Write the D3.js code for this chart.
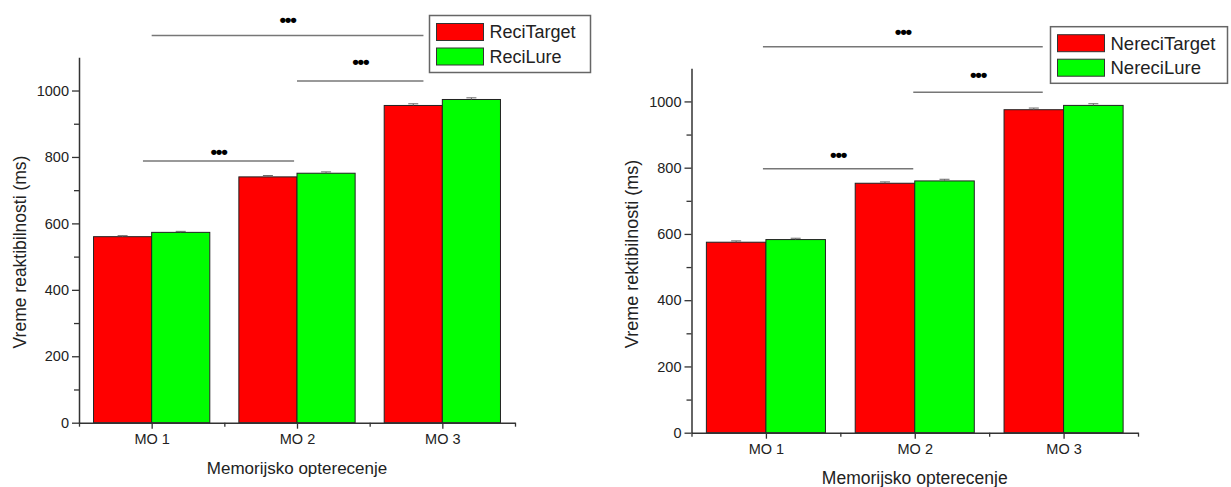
<!DOCTYPE html>
<html>
<head>
<meta charset="utf-8">
<script src="https://cdn.jsdelivr.net/npm/d3@7/dist/d3.min.js"></script>
<style>
  html, body { margin: 0; padding: 0; background: #fff; }
  svg { display: block; font-family: "Liberation Sans", Arial, sans-serif; }
</style>
</head>
<body>
<svg id="chart" width="1231" height="487"></svg>
<script>
// ---- data ----
const categories = ["MO 1", "MO 2", "MO 3"];
const yTicks = [0, 200, 400, 600, 800, 1000];
const yMinorTicks = [100, 300, 500, 700, 900];

const reciTarget = [560, 740, 955];
const reciLure = [573, 751, 973];
const reciTargetErr = [3, 4, 5];
const reciLureErr = [3, 4, 5];

const nereciTarget = [575, 753, 975];
const nereciLure = [583, 760, 988];
const nereciTargetErr = [4, 4, 5];
const nereciLureErr = [4, 5, 5];

// significance brackets: from/to in category units, line level and star level in ms
const leftSigFrom = [1, 2, 0.94];
const leftSigTo = [2.87, 2.87, 1.98];
const leftSigLine = [1166, 1029, 788];
const leftSigStar = [1215, 1086, 815];
const rightSigFrom = [0.98, 1.99, 0.98];
const rightSigTo = [2.86, 2.86, 1.99];
const rightSigLine = [1165, 1028, 797];
const rightSigStar = [1211, 1080, 840];
const sigLabel = "•••";

const leftLegend = ["ReciTarget", "ReciLure"];
const rightLegend = ["NereciTarget", "NereciLure"];
const xTitle = "Memorijsko opterecenje";
const leftYTitle = "Vreme reaktibilnosti (ms)";
const rightYTitle = "Vreme rektibilnosti (ms)";

const svg = d3.select("#chart");
const colors = ["#ff0000", "#00ff00"];

function drawChart(cfg) {
  const g = svg.append("g");
  const x = d3.scaleLinear().domain([0.5, 3.5]).range([cfg.x0, cfg.x1]);
  const y = d3.scaleLinear().domain([0, 1100]).range([cfg.y0, cfg.y1]);
  const step = x(2) - x(1);
  const bw = step * 0.4;

  // bars
  const series = [cfg.s1, cfg.s2];
  const errs = [cfg.e1, cfg.e2];
  series.forEach((s, si) => {
    s.forEach((v, i) => {
      const bx = si === 0 ? x(i + 1) - bw : x(i + 1);
      g.append("rect")
        .attr("x", bx).attr("y", y(v))
        .attr("width", bw).attr("height", y(0) - y(v))
        .attr("fill", colors[si])
        .attr("stroke", "#222").attr("stroke-width", 1);
      const cx = bx + bw / 2;
      const e = errs[si][i];
      g.append("line").attr("x1", cx).attr("x2", cx)
        .attr("y1", y(v + e)).attr("y2", y(v))
        .attr("stroke", "#666").attr("stroke-width", 1);
      g.append("line").attr("x1", cx - 5).attr("x2", cx + 5)
        .attr("y1", y(v + e)).attr("y2", y(v + e))
        .attr("stroke", "#666").attr("stroke-width", 1);
    });
  });

  // y axis
  const yAxis = d3.axisLeft(y).tickValues(yTicks).tickFormat(d3.format("d"))
    .tickSize(7).tickPadding(3).tickSizeOuter(0);
  const ya = g.append("g").attr("transform", `translate(${cfg.x0},0)`).call(yAxis);
  ya.select(".domain").attr("stroke", "#333").attr("stroke-width", 1.5);
  ya.selectAll(".tick line").attr("stroke", "#333").attr("stroke-width", 1.3);
  ya.selectAll(".tick text").attr("font-size", cfg.tickFont).attr("fill", "#222")
    .attr("font-family", "Liberation Sans, Arial, sans-serif");
  const yMinor = d3.axisLeft(y).tickValues(yMinorTicks).tickSize(5).tickFormat("").tickSizeOuter(0);
  const ym = g.append("g").attr("transform", `translate(${cfg.x0},0)`).call(yMinor);
  ym.select(".domain").remove();
  ym.selectAll(".tick line").attr("stroke", "#333").attr("stroke-width", 1.3);

  // x axis
  const xAxis = d3.axisBottom(x).tickValues([1, 2, 3]).tickFormat((d) => categories[d - 1])
    .tickSize(6).tickPadding(5).tickSizeOuter(0);
  const xa = g.append("g").attr("transform", `translate(0,${cfg.y0})`).call(xAxis);
  xa.select(".domain").attr("stroke", "#333").attr("stroke-width", 1.5);
  xa.selectAll(".tick line").attr("stroke", "#333").attr("stroke-width", 1.3);
  xa.selectAll(".tick text").attr("font-size", cfg.tickFont).attr("fill", "#222")
    .attr("font-family", "Liberation Sans, Arial, sans-serif");
  const xMinor = d3.axisBottom(x).tickValues([0.5, 1.5, 2.5, 3.5]).tickSize(4).tickFormat("").tickSizeOuter(0);
  const xm = g.append("g").attr("transform", `translate(0,${cfg.y0})`).call(xMinor);
  xm.select(".domain").remove();
  xm.selectAll(".tick line").attr("stroke", "#333").attr("stroke-width", 1.3);

  // titles
  g.append("text").attr("x", (cfg.x0 + cfg.x1) / 2).attr("y", cfg.xTitleY)
    .attr("text-anchor", "middle").attr("font-size", cfg.titleFont).attr("fill", "#222")
    .text(xTitle);
  g.append("text")
    .attr("transform", `translate(${cfg.yTitleX},${cfg.yTitleCY}) rotate(-90)`)
    .attr("text-anchor", "middle").attr("dominant-baseline", "central")
    .attr("font-size", cfg.yTitleFont).attr("fill", "#222")
    .text(cfg.yTitle);

  // significance brackets
  cfg.sigFrom.forEach((f, i) => {
    g.append("line").attr("x1", x(f)).attr("x2", x(cfg.sigTo[i]))
      .attr("y1", y(cfg.sigLine[i])).attr("y2", y(cfg.sigLine[i]))
      .attr("stroke", "#777").attr("stroke-width", 1.5);
    g.append("text").attr("x", x((f + cfg.sigTo[i]) / 2)).attr("y", y(cfg.sigStar[i]))
      .attr("text-anchor", "middle").attr("dominant-baseline", "central")
      .attr("font-size", 19).attr("font-weight", "bold").attr("fill", "#000")
      .attr("letter-spacing", "-1.3px")
      .text(sigLabel);
  });

  // legend
  const L = cfg.legend;
  g.append("rect").attr("x", L.x).attr("y", L.y).attr("width", L.w).attr("height", L.h)
    .attr("fill", "#fff").attr("stroke", "#666").attr("stroke-width", 1.5);
  cfg.legendNames.forEach((name, i) => {
    const sy = L.y + 8 + i * 24.5;
    g.append("rect").attr("x", L.x + 7).attr("y", sy).attr("width", 47).attr("height", 17)
      .attr("fill", colors[i]).attr("stroke", "#333").attr("stroke-width", 1);
    g.append("text").attr("x", L.x + 60).attr("y", sy + 8.5)
      .attr("dominant-baseline", "central")
      .attr("font-size", L.font).attr("fill", "#222").text(name);
  });
}

drawChart({
  x0: 79, x1: 515, y0: 422.7, y1: 57.3,
  s1: reciTarget, s2: reciLure, e1: reciTargetErr, e2: reciLureErr,
  tickFont: 14.5, titleFont: 17, yTitleFont: 17.5,
  xTitleY: 474, yTitleX: 20, yTitleCY: 252, yTitle: leftYTitle,
  sigFrom: leftSigFrom, sigTo: leftSigTo, sigLine: leftSigLine, sigStar: leftSigStar,
  legend: { x: 429.5, y: 15.5, w: 161, h: 57, font: 18 },
  legendNames: leftLegend
});

drawChart({
  x0: 691.5, x1: 1138, y0: 432.7, y1: 68.3,
  s1: nereciTarget, s2: nereciLure, e1: nereciTargetErr, e2: nereciLureErr,
  tickFont: 14.5, titleFont: 17.5, yTitleFont: 18,
  xTitleY: 484, yTitleX: 632, yTitleCY: 254, yTitle: rightYTitle,
  sigFrom: rightSigFrom, sigTo: rightSigTo, sigLine: rightSigLine, sigStar: rightSigStar,
  legend: { x: 1050.5, y: 26.7, w: 177, h: 56.6, font: 18.5 },
  legendNames: rightLegend
});
</script>
</body>
</html>
